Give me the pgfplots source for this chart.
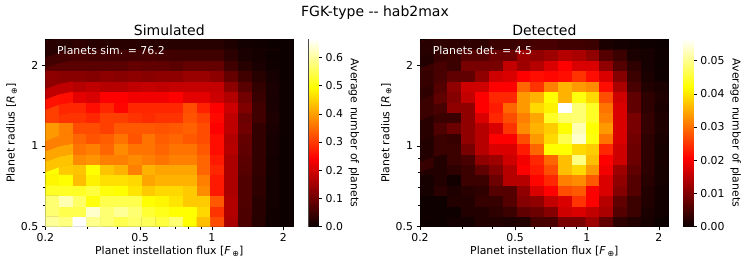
\documentclass[border=0pt]{standalone}
\usepackage{fontspec}
\setmainfont{DejaVu Sans}
\usepackage{pgfplots}
\pgfplotsset{compat=1.18}
\definecolor{framegray}{gray}{0.3}
\definecolor{seamback}{rgb}{0.3,0,0}
% axes run in log10 of flux and radius; cell centres follow the 18 x 18 log-spaced grid
\newcommand{\xgrid}{-0.69897+1.04139*(mod(\coordindex,18)+0.5)/18}
\newcommand{\ygrid}{-0.30103+0.69897*(floor(\coordindex/18)+0.5)/18}
\newcommand{\tfont}{\fontsize{10.9}{13}\selectfont}
\newcommand{\bigfont}{\fontsize{14}{16}\selectfont}
\pgfplotsset{
  colormap={mplhot}{rgb(0cm)=(0.0416,0,0); rgb(3.65cm)=(1,0,0); rgb(7.46cm)=(1,1,0); rgb(10cm)=(1,1,1)},
  hmaxes/.style={
    scale only axis, anchor=south west,
    axis background/.style={fill=seamback},
    xmin=-0.69897, xmax=0.34242, ymin=-0.30103, ymax=0.39794,
    xtick={-0.69897,-0.30103,0,0.30103}, xticklabels={0.2,0.5,1,2},
    ytick={-0.30103,0,0.30103}, yticklabels={0.5,1,2},
    minor xtick={-0.52288,-0.39794,-0.22185,-0.15490,-0.09691,-0.04576},
    minor ytick={-0.22185,-0.15490,-0.09691,-0.04576},
    tick align=outside, xtick pos=bottom, ytick pos=left,
    major tick length=3.5pt, minor tick length=2pt,
    tick style={black, line width=0.5pt},
    axis line style={line width=0.5pt},
    tick label style={font=\tfont},
    label style={font=\tfont},
    xlabel={Planet instellation flux [{\itshape F}\,\raisebox{-0.35ex}{\fontsize{8}{9}\selectfont ⊕}]},
    ylabel={Planet radius [{\itshape R}\,\raisebox{-0.35ex}{\fontsize{8}{9}\selectfont ⊕}]},
    xlabel style={at={(axis description cs:0.5,-0.133)}, anchor=center},
    ylabel style={at={(axis description cs:-0.1355,0.5)}, anchor=center},
    every axis title shift=0pt,
    title style={at={(axis description cs:0.5,1.05)}, anchor=center},
  },
  cbaxes/.style={
    scale only axis, anchor=south west, width=10pt, height=187.4pt,
    xmin=0, xmax=1, xtick=\empty, scaled y ticks=false,
    tick align=outside, ytick pos=right, yticklabel pos=right,
    major tick length=3.5pt,
    tick style={black, line width=0.5pt},
    axis line style={framegray, line width=0.5pt},
    tick label style={font=\tfont},
    ylabel={Average number of planets},
  },
}
\begin{document}
\begin{tikzpicture}
\path[use as bounding box] (0pt,0pt) rectangle (748pt,265pt);
\node[font=\bigfont] at (375pt,252.5pt) {FGK-type {-}{-} hab2max};
\begin{axis}[hmaxes, at={(45.3pt,38.3pt)}, width=248pt, height=187.4pt,
  title={\bigfont Simulated},
  point meta min=0, point meta max=0.664]
\addplot[matrix plot*, mesh/cols=18, mesh/ordering=x varies, point meta=explicit] table[row sep=\\, meta=v, x expr={\xgrid}, y expr={\ygrid}] {
v\\
.596\\.58\\.664\\.588\\.571\\.546\\.563\\.554\\.537\\.571\\.495\\.432\\.318\\.16\\.066\\.028\\.005\\.001\\
.571\\.546\\.546\\.63\\.571\\.596\\.571\\.529\\.512\\.495\\.495\\.457\\.293\\.166\\.066\\.03\\.006\\.001\\
.571\\.613\\.563\\.503\\.546\\.546\\.546\\.495\\.487\\.47\\.444\\.444\\.33\\.166\\.07\\.03\\.008\\.001\\
.52\\.52\\.52\\.537\\.503\\.495\\.47\\.444\\.457\\.457\\.444\\.381\\.267\\.16\\.07\\.035\\.008\\.001\\
.487\\.495\\.432\\.482\\.465\\.465\\.457\\.406\\.419\\.419\\.419\\.369\\.267\\.16\\.07\\.035\\.008\\.001\\
.495\\.444\\.437\\.495\\.437\\.419\\.369\\.419\\.406\\.406\\.406\\.343\\.28\\.16\\.075\\.04\\.01\\.001\\
.437\\.437\\.381\\.389\\.369\\.369\\.381\\.369\\.356\\.369\\.369\\.343\\.267\\.16\\.08\\.04\\.01\\.001\\
.406\\.406\\.356\\.369\\.343\\.381\\.356\\.356\\.343\\.356\\.356\\.33\\.255\\.17\\.085\\.04\\.012\\.001\\
.369\\.369\\.343\\.325\\.335\\.356\\.325\\.356\\.335\\.343\\.33\\.318\\.255\\.166\\.09\\.04\\.012\\.002\\
.394\\.369\\.318\\.318\\.305\\.33\\.33\\.33\\.325\\.33\\.338\\.318\\.242\\.179\\.103\\.04\\.015\\.003\\
.305\\.293\\.293\\.28\\.305\\.305\\.293\\.285\\.293\\.293\\.325\\.305\\.25\\.179\\.095\\.053\\.02\\.003\\
.305\\.28\\.28\\.255\\.28\\.247\\.28\\.28\\.28\\.28\\.318\\.275\\.242\\.192\\.116\\.053\\.015\\.003\\
.26\\.255\\.217\\.204\\.242\\.242\\.229\\.229\\.229\\.242\\.217\\.217\\.192\\.166\\.103\\.045\\.015\\.003\\
.18\\.18\\.17\\.18\\.17\\.17\\.18\\.185\\.18\\.185\\.185\\.185\\.185\\.129\\.078\\.04\\.015\\.003\\
.13\\.125\\.125\\.12\\.13\\.125\\.13\\.125\\.13\\.13\\.141\\.141\\.129\\.09\\.053\\.028\\.012\\.002\\
.08\\.08\\.08\\.08\\.08\\.08\\.09\\.085\\.085\\.078\\.09\\.09\\.09\\.053\\.028\\.015\\.006\\.001\\
.055\\.055\\.06\\.055\\.055\\.055\\.055\\.06\\.055\\.053\\.053\\.053\\.053\\.033\\.015\\.01\\.004\\.001\\
.03\\.03\\.035\\.03\\.03\\.03\\.03\\.03\\.03\\.028\\.028\\.028\\.028\\.02\\.008\\.005\\.002\\.001\\
};
\node[anchor=west, inner sep=0pt, text=white, font=\tfont] at (rel axis cs:0.047,0.943) {Planets sim. = 76.2};
\end{axis}
\begin{axis}[cbaxes, at={(308.7pt,38.3pt)}, ymin=0, ymax=0.664,
  ytick={0,0.1,0.2,0.3,0.4,0.5,0.6}, yticklabels={0.0,0.1,0.2,0.3,0.4,0.5,0.6},
  ylabel style={at={(axis description cs:4.53,0.5)}, anchor=center, rotate=180, font=\tfont},
  point meta min=0, point meta max=0.664]
\addplot[surf, shader=interp, mesh/cols=2, mesh/ordering=x varies, point meta=y] coordinates {
(0,0)(1,0) (0,0.2424)(1,0.2424) (0,0.4953)(1,0.4953) (0,0.664)(1,0.664)};
\end{axis}
\begin{axis}[hmaxes, at={(420pt,38.3pt)}, width=248.7pt, height=187.4pt,
  title={\bigfont Detected},
  point meta min=0, point meta max=0.0564]
\addplot[matrix plot*, mesh/cols=18, mesh/ordering=x varies, point meta=explicit] table[row sep=\\, meta=v, x expr={\xgrid}, y expr={\ygrid}] {
v\\
.0004\\.0004\\.0008\\.0008\\.002\\.002\\.0016\\.002\\.005\\.0052\\.0093\\.0093\\.0124\\.0072\\.0031\\.002\\.001\\.0002\\
.0004\\.0004\\.0004\\.002\\.002\\.0031\\.0041\\.0072\\.0082\\.0103\\.0165\\.0175\\.0155\\.0134\\.0062\\.0041\\.0014\\.0006\\
.0004\\.0004\\.002\\.002\\.0037\\.0037\\.0062\\.0103\\.0113\\.0155\\.0175\\.0249\\.0206\\.0144\\.0072\\.0041\\.002\\.0006\\
.001\\.0027\\.0016\\.0025\\.0031\\.0062\\.0062\\.0113\\.0175\\.0206\\.0271\\.0281\\.0206\\.0175\\.0103\\.0062\\.002\\.0006\\
.001\\.002\\.0006\\.0041\\.0041\\.0082\\.0144\\.0144\\.021\\.0238\\.0314\\.0324\\.0281\\.0175\\.0113\\.0062\\.0025\\.001\\
.002\\.002\\.0031\\.0041\\.0072\\.0103\\.0144\\.0206\\.0228\\.0271\\.0367\\.0389\\.0335\\.0196\\.0124\\.0072\\.0031\\.001\\
.0037\\.002\\.0041\\.0052\\.0113\\.0124\\.0165\\.0196\\.0238\\.0292\\.0367\\.0493\\.0367\\.0206\\.0165\\.0082\\.0031\\.0012\\
.002\\.0041\\.0041\\.0093\\.0144\\.0175\\.0175\\.0228\\.0292\\.0421\\.0421\\.0389\\.0378\\.0238\\.0165\\.0082\\.0031\\.001\\
.002\\.0041\\.0037\\.0113\\.0144\\.0206\\.0206\\.0271\\.0335\\.0389\\.0464\\.0535\\.0428\\.0303\\.0175\\.0087\\.0031\\.0014\\
.0025\\.0058\\.0082\\.0113\\.0144\\.0175\\.0249\\.0324\\.0357\\.0378\\.0421\\.0521\\.0421\\.0335\\.0175\\.0093\\.0035\\.0016\\
.0025\\.0041\\.0041\\.0113\\.0175\\.0238\\.0271\\.0314\\.0346\\.0442\\.0478\\.0485\\.0442\\.0314\\.0175\\.0093\\.0035\\.0016\\
.0041\\.0052\\.0113\\.0113\\.0206\\.0228\\.0292\\.0335\\.0389\\.041\\.0564\\.0485\\.0442\\.0303\\.0175\\.0072\\.0031\\.0014\\
.0041\\.0072\\.0103\\.0155\\.0206\\.0238\\.0238\\.0335\\.0357\\.0421\\.0357\\.0428\\.0389\\.0271\\.0165\\.0072\\.0031\\.0016\\
.0031\\.0062\\.0113\\.0165\\.0165\\.0206\\.0206\\.0292\\.0249\\.0314\\.0357\\.0335\\.0324\\.0217\\.0134\\.0052\\.002\\.0014\\
.0037\\.0052\\.0072\\.0072\\.0113\\.0165\\.0175\\.0206\\.0217\\.0212\\.0217\\.0249\\.0217\\.0175\\.0103\\.0041\\.0014\\.0004\\
.0041\\.0052\\.0041\\.0093\\.0093\\.0093\\.0155\\.0124\\.0144\\.0175\\.0206\\.0175\\.0175\\.0113\\.0062\\.0031\\.001\\.0004\\
.002\\.0037\\.0041\\.0062\\.0062\\.0082\\.0082\\.0124\\.0113\\.0124\\.0144\\.0134\\.0113\\.0062\\.0041\\.0014\\.001\\.0004\\
.0025\\.0031\\.0031\\.0031\\.0031\\.0041\\.0041\\.0045\\.0052\\.0052\\.0045\\.0045\\.0041\\.0014\\.0008\\.0006\\.0004\\.0002\\
};
\node[anchor=west, inner sep=0pt, text=white, font=\tfont] at (rel axis cs:0.051,0.943) {Planets det. = 4.5};
\end{axis}
\begin{axis}[cbaxes, at={(683.3pt,38.3pt)}, ymin=0, ymax=0.0564,
  ytick={0,0.01,0.02,0.03,0.04,0.05}, yticklabels={0.00,0.01,0.02,0.03,0.04,0.05},
  ylabel style={at={(axis description cs:5.24,0.5)}, anchor=center, rotate=180, font=\tfont},
  point meta min=0, point meta max=0.0564]
\addplot[surf, shader=interp, mesh/cols=2, mesh/ordering=x varies, point meta=y] coordinates {
(0,0)(1,0) (0,0.0206)(1,0.0206) (0,0.0421)(1,0.0421) (0,0.0564)(1,0.0564)};
\end{axis}
\end{tikzpicture}
\end{document}
